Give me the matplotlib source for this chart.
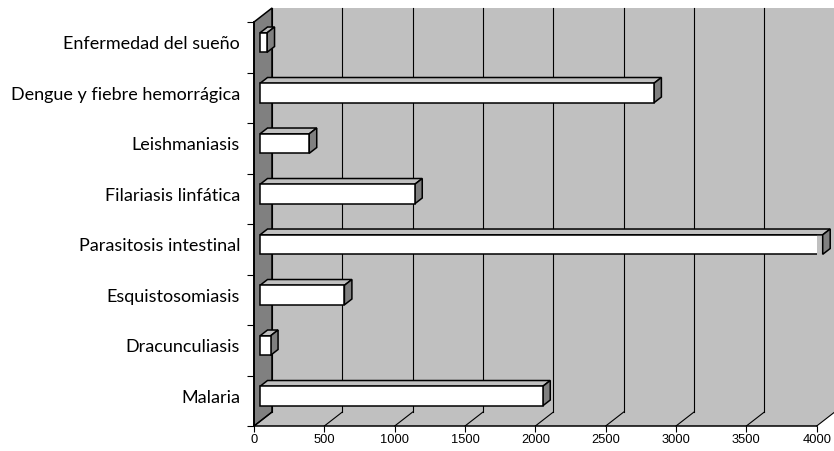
import matplotlib
matplotlib.use("Agg")
import matplotlib.pyplot as plt
from matplotlib.patches import Polygon
import numpy as np

# data (bottom to top)
diseases = ['Malaria', 'Dracunculiasis', 'Esquistosomiasis', 'Parasitosis intestinal',
            'Filariasis linfática', 'Leishmaniasis', 'Dengue y fiebre hemorrágica',
            'Enfermedad del sueño']
values = [2010, 75, 600, 4000, 1100, 350, 2800, 50]
xticks = np.arange(0, 4001, 500)

W, H = 834, 451
fig = plt.figure(figsize=(W / 100, H / 100), dpi=100)
# front plane of the 3D box
ax = fig.add_axes([254 / W, 25 / H, 562.7 / W, 404 / H])
ax.set_xlim(0, 4000)
ax.set_ylim(0, len(diseases))
ax.patch.set_visible(False)

DX, DY = 128, 0.277       # full depth of the box, data units
WALL = '#c0c0c0'
SIDE = '#808080'
top = len(diseases)

def poly(pts, fc, ec='black', lw=0.0, z=1):
    ax.add_patch(Polygon(pts, closed=True, facecolor=fc, edgecolor=ec,
                         linewidth=lw, zorder=z, clip_on=False))

# floor, back wall, side wall
poly([(0, 0), (4000, 0), (4000 + DX, DY), (DX, DY)], WALL, z=0)
poly([(DX, DY), (4000 + DX, DY), (4000 + DX, top + DY), (DX, top + DY)], WALL, z=0)
poly([(0, 0), (DX, DY), (DX, top + DY), (0, top)], SIDE, lw=1.1, z=1)

# gridlines on back wall and floor
for v in xticks:
    ax.plot([v + DX, v + DX], [DY, top + DY], color='black', lw=0.8, zorder=1, clip_on=False)
    ax.plot([v, v + DX], [0, DY], color='black', lw=0.8, zorder=1, clip_on=False)

# bars
f0, f1 = 1 / 3, 0.75
bh = 0.386
ypos = np.arange(len(diseases)) + 0.5 + f0 * DY
ax.barh(ypos, values, left=f0 * DX, height=bh, color='white', edgecolor='black',
        linewidth=1.1, zorder=3)
d = (f1 - f0)
for y, v in zip(ypos, values):
    x0, x1 = f0 * DX, f0 * DX + v
    yt, yb = y + bh / 2, y - bh / 2
    poly([(x0, yt), (x1, yt), (x1 + d * DX, yt + d * DY), (x0 + d * DX, yt + d * DY)],
         WALL, lw=1.1, z=2)
    poly([(x1, yb), (x1 + d * DX, yb + d * DY), (x1 + d * DX, yt + d * DY), (x1, yt)],
         SIDE, lw=1.1, z=2)

# axes
for s in ['top', 'right']:
    ax.spines[s].set_visible(False)
ax.spines['left'].set_linewidth(1.3)
ax.spines['bottom'].set_linewidth(1.1)
ax.spines['left'].set_zorder(4)
ax.spines['bottom'].set_zorder(4)

ax.set_xticks(xticks)
ax.set_xticklabels([str(t) for t in xticks], fontfamily='Liberation Sans', fontsize=9.3)
ax.tick_params(axis='x', length=4.5, width=0.8, pad=1.5, direction='out')

ax.set_yticks(np.arange(0, top + 1))
ax.set_yticklabels([])
ax.tick_params(axis='y', which='major', length=5, width=0.8, direction='out')
ax.set_yticks(ypos, minor=True)
ax.set_yticklabels(diseases, minor=True, fontfamily='Lato', fontsize=13)
ax.tick_params(axis='y', which='minor', length=0, pad=10)

fig.savefig('out.png', dpi=100)
